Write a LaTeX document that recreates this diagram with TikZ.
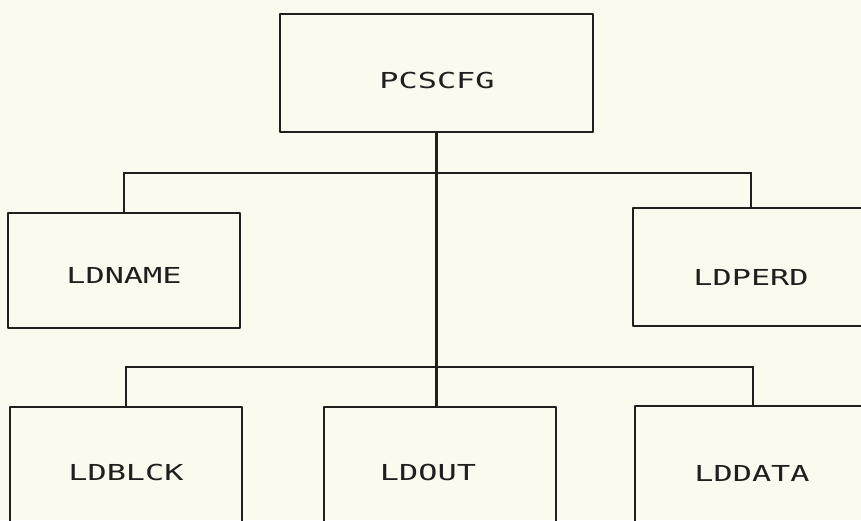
\documentclass[tikz,border=0pt]{standalone}
\usepackage{fontspec}
\newfontfamily\plotfont{DejaVu Sans Mono}
\definecolor{paper}{RGB}{250,250,238}
\definecolor{ink}{RGB}{34,30,30}
\begin{document}
\begin{tikzpicture}[x=1pt,y=-1pt,
  box/.style={draw=ink,line width=2.6pt,rectangle,inner sep=0pt,line join=round},
  lbl/.style={inner sep=0pt,text=ink,font=\plotfont\fontsize{22}{22}\selectfont},
  wire/.style={draw=ink,line width=2.4pt}]
\useasboundingbox (0,0) rectangle (861,520);
\fill[paper] (0,0) rectangle (861,520);
\begin{scope}
\clip (0,0) rectangle (861,520);
% boxes
\node[box,minimum width=313pt,minimum height=118pt] (pcscfg) at (436.5,73) {};
\node[box,minimum width=232pt,minimum height=115pt] (ldname) at (124,270.5) {};
\node[box,minimum width=236pt,minimum height=118pt] (ldperd) at (751,267) {};
\node[box,minimum width=232pt,minimum height=118pt] (ldblck) at (126,466) {};
\node[box,minimum width=232pt,minimum height=118pt] (ldout) at (440,466) {};
\node[box,minimum width=236pt,minimum height=118pt] (lddata) at (753,465) {};
% labels
\node[lbl] (tpcscfg) at (437,80) {\scalebox{1.45}[1]{PCSCFG}};
\node[lbl] (tldname) at (124,275) {\scalebox{1.45}[1]{LDNAME}};
\node[lbl] (tldperd) at (751,277) {\scalebox{1.45}[1]{LDPERD}};
\node[lbl] (tldblck) at (126,472) {\scalebox{1.45}[1]{LDBLCK}};
\node[lbl] (tldout) at (428,472) {\scalebox{1.45}[1]{LDOUT}};
\node[lbl] (tlddata) at (752,473) {\scalebox{1.45}[1]{LDDATA}};
% buses
\coordinate (bus1) at (436.5,173);
\coordinate (bus2) at (436.5,367);
\draw[wire] (pcscfg.south) -- (pcscfg.south |- ldout.north);
\draw[wire] (ldname.north) |- (bus1) -| (ldperd.north);
\draw[wire] (ldblck.north) |- (bus2) -| (lddata.north);
\end{scope}
\end{tikzpicture}
\end{document}
